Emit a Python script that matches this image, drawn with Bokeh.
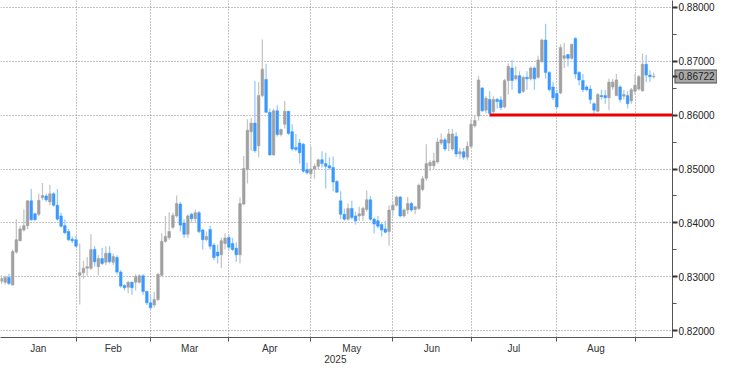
from bokeh.plotting import figure
from bokeh.models import (ColumnDataSource, FixedTicker, LinearAxis,
                          NumeralTickFormatter, CustomJSTickFormatter)
from bokeh.embed import file_html
from bokeh.resources import INLINE

# EUR/GBP daily candles, 3 Jan 2025 - 5 Sep 2025 (trading days)
opens = [0.8292,0.8290,0.8299,0.8285,0.8346,0.8367,0.8387,0.8395,0.8441,0.8417,
         0.8416,0.8447,0.8450,0.8439,0.8454,0.8433,0.8413,0.8395,0.8384,0.8370,
         0.8369,0.8303,0.8308,0.8316,0.8316,0.8351,0.8319,0.8334,0.8327,0.8344,
         0.8327,0.8336,0.8309,0.8284,0.8281,0.8290,0.8290,0.8290,0.8302,0.8273,
         0.8252,0.8248,0.8258,0.8303,0.8366,0.8373,0.8392,0.8413,0.8435,0.8400,
         0.8379,0.8416,0.8408,0.8419,0.8387,0.8369,0.8388,0.8359,0.8346,0.8341,
         0.8362,0.8373,0.8362,0.8353,0.8341,0.8435,0.8499,0.8569,0.8585,0.8543,
         0.8636,0.8666,0.8605,0.8526,0.8608,0.8564,0.8583,0.8607,0.8569,0.8540,
         0.8548,0.8546,0.8499,0.8491,0.8500,0.8505,0.8517,0.8510,0.8506,0.8503,
         0.8477,0.8441,0.8416,0.8407,0.8427,0.8413,0.8413,0.8414,0.8425,0.8443,
         0.8407,0.8404,0.8397,0.8389,0.8384,0.8424,0.8433,0.8448,0.8413,0.8424,
         0.8436,0.8425,0.8427,0.8462,0.8483,0.8506,0.8506,0.8513,0.8548,0.8554,
         0.8548,0.8537,0.8560,0.8528,0.8532,0.8522,0.8542,0.8580,0.8598,0.8650,
         0.8609,0.8629,0.8606,0.8629,0.8628,0.8615,0.8664,0.8687,0.8667,0.8673,
         0.8644,0.8670,0.8667,0.8687,0.8670,0.8699,0.8739,0.8679,0.8652,0.8640,
         0.8641,0.8705,0.8712,0.8705,0.8742,0.8679,0.8664,0.8652,0.8648,0.8621,
         0.8607,0.8636,0.8636,0.8632,0.8652,0.8636,0.8652,0.8635,0.8636,0.8626,
         0.8644,0.8648,0.8645,0.8694,0.8674,0.8671]
highs = [0.8303,0.8302,0.8306,0.8351,0.8407,0.8395,0.8425,0.8442,0.8463,0.8419,
         0.8454,0.8474,0.8454,0.8471,0.8457,0.8463,0.8419,0.8407,0.8389,0.8375,
         0.8376,0.8362,0.8330,0.8337,0.8379,0.8357,0.8340,0.8354,0.8357,0.8357,
         0.8343,0.8340,0.8313,0.8287,0.8293,0.8292,0.8305,0.8305,0.8305,0.8275,
         0.8267,0.8272,0.8308,0.8381,0.8413,0.8420,0.8419,0.8451,0.8439,0.8407,
         0.8416,0.8419,0.8425,0.8422,0.8389,0.8384,0.8395,0.8363,0.8360,0.8373,
         0.8381,0.8378,0.8372,0.8364,0.8447,0.8524,0.8592,0.8595,0.8663,0.8661,
         0.8740,0.8695,0.8612,0.8612,0.8618,0.8575,0.8626,0.8608,0.8583,0.8565,
         0.8556,0.8548,0.8512,0.8542,0.8510,0.8519,0.8533,0.8530,0.8522,0.8523,
         0.8479,0.8459,0.8427,0.8436,0.8441,0.8421,0.8430,0.8430,0.8460,0.8450,
         0.8410,0.8413,0.8400,0.8404,0.8433,0.8441,0.8450,0.8450,0.8427,0.8448,
         0.8439,0.8431,0.8473,0.8487,0.8546,0.8516,0.8530,0.8558,0.8566,0.8558,
         0.8574,0.8574,0.8568,0.8539,0.8539,0.8551,0.8592,0.8600,0.8672,0.8652,
         0.8635,0.8644,0.8635,0.8632,0.8635,0.8667,0.8696,0.8702,0.8690,0.8681,
         0.8673,0.8681,0.8690,0.8690,0.8710,0.8742,0.8769,0.8681,0.8661,0.8647,
         0.8731,0.8734,0.8713,0.8732,0.8744,0.8681,0.8676,0.8655,0.8655,0.8623,
         0.8641,0.8647,0.8647,0.8667,0.8667,0.8676,0.8655,0.8647,0.8644,0.8650,
         0.8676,0.8674,0.8714,0.8711,0.8683,0.8679]
lows = [0.8287,0.8286,0.8285,0.8284,0.8343,0.8366,0.8384,0.8389,0.8404,0.8404,
        0.8413,0.8442,0.8439,0.8433,0.8430,0.8404,0.8392,0.8379,0.8366,0.8363,
        0.8356,0.8249,0.8297,0.8302,0.8313,0.8319,0.8303,0.8322,0.8322,0.8325,
        0.8322,0.8305,0.8280,0.8275,0.8270,0.8267,0.8275,0.8288,0.8267,0.8248,
        0.8240,0.8243,0.8255,0.8301,0.8363,0.8369,0.8389,0.8410,0.8384,0.8372,
        0.8372,0.8401,0.8401,0.8381,0.8351,0.8366,0.8351,0.8331,0.8325,0.8316,
        0.8351,0.8349,0.8348,0.8328,0.8325,0.8433,0.8473,0.8534,0.8530,0.8522,
        0.8633,0.8604,0.8525,0.8525,0.8560,0.8560,0.8575,0.8563,0.8534,0.8533,
        0.8510,0.8493,0.8490,0.8482,0.8482,0.8499,0.8503,0.8464,0.8499,0.8459,
        0.8456,0.8407,0.8404,0.8404,0.8406,0.8397,0.8404,0.8404,0.8421,0.8404,
        0.8381,0.8390,0.8375,0.8381,0.8358,0.8413,0.8430,0.8410,0.8410,0.8416,
        0.8421,0.8416,0.8424,0.8459,0.8478,0.8496,0.8500,0.8510,0.8545,0.8533,
        0.8533,0.8534,0.8522,0.8519,0.8517,0.8516,0.8539,0.8577,0.8590,0.8605,
        0.8603,0.8597,0.8603,0.8612,0.8609,0.8612,0.8638,0.8647,0.8664,0.8639,
        0.8641,0.8647,0.8664,0.8647,0.8667,0.8696,0.8667,0.8644,0.8628,0.8612,
        0.8638,0.8687,0.8690,0.8703,0.8667,0.8655,0.8642,0.8644,0.8621,0.8600,
        0.8605,0.8629,0.8621,0.8609,0.8647,0.8635,0.8623,0.8629,0.8612,0.8621,
        0.8638,0.8645,0.8643,0.8661,0.8661,0.8667]
closes = [0.8297,0.8299,0.8288,0.8347,0.8369,0.8389,0.8395,0.8441,0.8406,0.8406,
          0.8442,0.8451,0.8443,0.8454,0.8433,0.8407,0.8394,0.8382,0.8369,0.8367,
          0.8357,0.8308,0.8316,0.8319,0.8351,0.8328,0.8334,0.8325,0.8344,0.8328,
          0.8338,0.8309,0.8283,0.8280,0.8290,0.8280,0.8301,0.8302,0.8273,0.8252,
          0.8243,0.8258,0.8305,0.8366,0.8375,0.8384,0.8414,0.8436,0.8396,0.8379,
          0.8413,0.8408,0.8419,0.8384,0.8369,0.8375,0.8357,0.8336,0.8339,0.8367,
          0.8372,0.8355,0.8351,0.8341,0.8436,0.8501,0.8572,0.8585,0.8534,0.8636,
          0.8685,0.8605,0.8526,0.8608,0.8564,0.8573,0.8607,0.8566,0.8537,0.8536,
          0.8530,0.8496,0.8493,0.8500,0.8505,0.8517,0.8510,0.8505,0.8502,0.8476,
          0.8457,0.8416,0.8407,0.8427,0.8410,0.8404,0.8417,0.8427,0.8443,0.8407,
          0.8398,0.8394,0.8387,0.8383,0.8424,0.8433,0.8448,0.8413,0.8424,0.8436,
          0.8424,0.8430,0.8470,0.8482,0.8510,0.8512,0.8515,0.8550,0.8554,0.8537,
          0.8565,0.8565,0.8528,0.8532,0.8522,0.8542,0.8583,0.8590,0.8665,0.8608,
          0.8631,0.8603,0.8629,0.8625,0.8614,0.8664,0.8690,0.8664,0.8673,0.8641,
          0.8670,0.8667,0.8687,0.8667,0.8702,0.8739,0.8679,0.8647,0.8632,0.8615,
          0.8725,0.8710,0.8705,0.8731,0.8676,0.8665,0.8647,0.8647,0.8629,0.8609,
          0.8638,0.8634,0.8632,0.8661,0.8661,0.8665,0.8629,0.8638,0.8621,0.8647,
          0.8655,0.8671,0.8694,0.8674,0.8671,0.8672]

month_names = ["Jan", "Feb", "Mar", "Apr", "May", "Jun", "Jul", "Aug"]
month_days = [21, 20, 21, 22, 22, 21, 23, 21, 5]   # trading days shown per month (Sep partial)
year_label = "2025"
support_level = 0.86
support_start = 131
last_price = 0.86722
y_ticks = [0.82, 0.83, 0.84, 0.85, 0.86, 0.87, 0.88]

n = len(closes)
idx = list(range(n))
up = [c >= o for o, c in zip(opens, closes)]
body_col = ["#a0a0a0" if u else "#3a98ff" for u in up]
wick_col = ["#c6c6c6" if u else "#99caff" for u in up]
src = ColumnDataSource(dict(x=idx, o=opens, h=highs, l=lows, c=closes,
                            top=[max(o, c) for o, c in zip(opens, closes)],
                            bot=[min(o, c) for o, c in zip(opens, closes)],
                            bc=body_col, wc=wick_col))

# month boundaries (last trading day of each month)
ends = []
acc = 0
for d in month_days[:-1]:
    acc += d
    ends.append(acc - 1)
x0, x1 = -0.26, 180.05
mids = [(x0 + ends[0]) / 2] + [(ends[k] + ends[k + 1]) / 2 for k in range(len(ends) - 1)]
center = (x0 + x1) / 2 - 0.3

p = figure(width=717, height=367, x_range=(x0, x1), y_range=(0.81878, 0.88122),
           output_backend="svg", toolbar_location=None, y_axis_location="right",
           min_border_left=0, min_border_top=0, min_border_right=0, min_border_bottom=0)
p.outline_line_color = None
p.background_fill_color = "white"

# grid
p.ygrid.ticker = FixedTicker(ticks=y_ticks)
p.xgrid.ticker = FixedTicker(ticks=ends)
for g in (p.xgrid, p.ygrid):
    g.grid_line_color = "#8a8a8a"
    g.grid_line_dash = "1 2"
    g.grid_line_width = 1

# candles
p.segment(x0="x", y0="h", x1="x", y1="l", source=src, line_color="wc", line_width=1.3)
p.vbar(x="x", top="top", bottom="bot", width=0.72, source=src,
       fill_color="bc", line_color="bc", line_width=0.5)

# support line
p.segment(x0=[support_start], y0=[support_level], x1=[x1], y1=[support_level],
          line_color="#ee0000", line_width=3)

# right price axis (drawn on top so its labels sit over the price-tag box)
ya = p.yaxis[0]
ya.level = "overlay"
ya.ticker = FixedTicker(ticks=y_ticks + [last_price],
                        minor_ticks=[t + 0.005 for t in y_ticks[:-1]])
ya.formatter = NumeralTickFormatter(format="0.00000")
ya.axis_line_color = "#555555"
ya.major_tick_line_color = "#333333"
ya.major_tick_line_width = 2
ya.major_tick_out = 5
ya.major_tick_in = 0
ya.minor_tick_line_color = "#555555"
ya.minor_tick_out = 4
ya.minor_tick_in = 0
ya.major_label_standoff = 1
ya.major_label_text_font = "Liberation Sans"
ya.major_label_text_font_size = "10px"
ya.major_label_text_color = "#222222"

# price-tag box behind the last-price label: two extra axes whose single tick is
# drawn inwards as a thick bar (border, then fill)
def tag_axis(color, width, tin, tout):
    ax = LinearAxis(ticker=FixedTicker(ticks=[last_price]),
                    formatter=CustomJSTickFormatter(code="return '';"),
                    axis_line_color=None, minor_tick_line_color=None,
                    major_tick_line_color=color, major_tick_line_width=width,
                    major_tick_in=tin, major_tick_out=tout, major_tick_line_cap="butt",
                    major_label_standoff=0, axis_label_standoff=0)
    p.add_layout(ax, "right")
    return ax

tag_axis("#4a4a4a", 14, 43, 0)
tag_axis("#a8a8a8", 12, 42, -1)

# bottom axis (month names centred in each month, year under the middle)
xa = p.xaxis[0]
xa.ticker = FixedTicker(ticks=mids + [center], minor_ticks=ends)
xa.formatter = CustomJSTickFormatter(args=dict(mpos=mids, mnames=month_names, yl=year_label),
                                     code="""
    for (let k = 0; k < mpos.length; k++) { if (Math.abs(mpos[k] - tick) < 1e-6) return mnames[k]; }
    return '\\n' + yl;
""")
xa.axis_line_color = "#555555"
xa.major_tick_out = 0
xa.major_tick_in = 0
xa.minor_tick_out = 4
xa.minor_tick_in = 0
xa.minor_tick_line_color = "#555555"
xa.major_label_standoff = 1
xa.major_label_text_font = "Liberation Sans"
xa.major_label_text_font_size = "10px"
xa.major_label_text_color = "#333333"
xa.major_label_text_line_height = 1.0

open("out.html", "w").write(file_html(p, INLINE))
